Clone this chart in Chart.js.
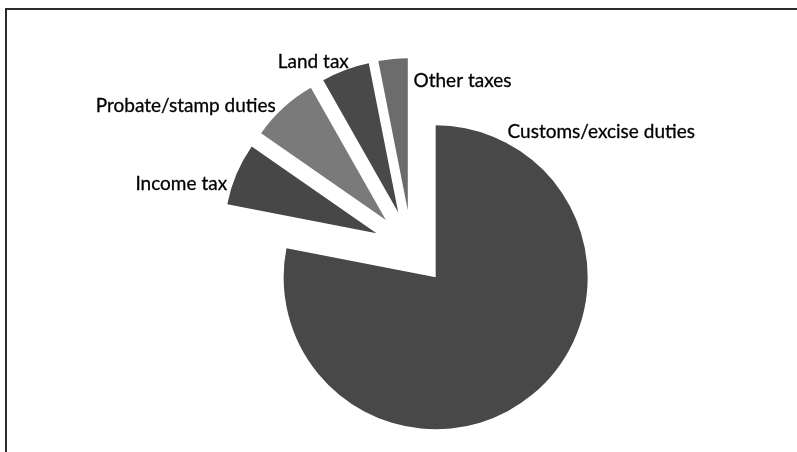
<!DOCTYPE html>
<html>
<head>
<meta charset="utf-8">
<script src="https://cdn.jsdelivr.net/npm/chart.js@4.4.1/dist/chart.umd.min.js"></script>
<style>
  html, body { margin: 0; padding: 0; background: #fff; }
  #wrap { position: relative; width: 797px; height: 452px; overflow: hidden; }
  #frame {
    position: absolute; left: 5px; top: 8px; width: 820px; height: 470px;
    border-left: 2px solid #2b2b2b; border-top: 2px solid #2b2b2b;
  }
  #taxChart { position: absolute; left: 0; top: 0; }
</style>
</head>
<body>
<div id="wrap">
  <div id="frame"></div>
  <canvas id="taxChart" width="797" height="452"></canvas>
</div>
<script>
// share of revenue by tax, percent
const categories = ["Customs/excise duties", "Income tax", "Probate/stamp duties", "Land tax", "Other taxes"];
const shares = [77.9, 6.6, 7.1, 5.1, 3.1];
const sliceColors = ["#484848", "#474747", "#7a7a7a", "#494949", "#6c6c6c"];

// where each label sits, measured from its own slice (degrees clockwise from 12 o'clock)
const labelAngle = [26, 289, 316.5, 342, 2.5];
const labelDist = [164, 158, 160, 160, 131];
const labelAlign = ["left", "right", "right", "right", "left"];

const explode = 38;

function midAngle(arc) {
  return (arc.startAngle + arc.endAngle) / 2;
}

// pull every slice out from the centre along its middle
const explodePlugin = {
  id: "explode",
  beforeDatasetDraw(chart, args) {
    const ctx = chart.ctx;
    const arcs = chart.getDatasetMeta(args.index).data;
    arcs.forEach(function (arc) {
      const a = midAngle(arc);
      ctx.save();
      ctx.translate(Math.cos(a) * explode, Math.sin(a) * explode);
      arc.draw(ctx);
      ctx.restore();
    });
    return false;
  }
};

const labelPlugin = {
  id: "sliceLabels",
  afterDatasetsDraw(chart) {
    const ctx = chart.ctx;
    const arcs = chart.getDatasetMeta(0).data;
    ctx.save();
    ctx.font = "19px Lato";
    ctx.fillStyle = "#000";
    ctx.strokeStyle = "#000";
    ctx.lineWidth = 0.3;
    ctx.textBaseline = "middle";
    arcs.forEach(function (arc, i) {
      const a = midAngle(arc);
      const cx = arc.x + Math.cos(a) * explode;
      const cy = arc.y + Math.sin(a) * explode;
      const t = (labelAngle[i] - 90) * Math.PI / 180;
      const x = cx + Math.cos(t) * labelDist[i];
      const y = cy + Math.sin(t) * labelDist[i] + 2;
      ctx.textAlign = labelAlign[i];
      ctx.fillText(categories[i], x, y);
      ctx.strokeText(categories[i], x, y);
    });
    ctx.restore();
  }
};

new Chart("taxChart", {
  type: "pie",
  data: {
    labels: categories,
    datasets: [{
      data: shares,
      backgroundColor: sliceColors,
      borderWidth: 0,
      radius: 152
    }]
  },
  options: {
    responsive: false,
    animation: false,
    layout: { padding: { left: 26, right: 0, top: 44, bottom: 0 } },
    plugins: {
      legend: { display: false },
      tooltip: { enabled: false }
    }
  },
  plugins: [explodePlugin, labelPlugin]
});
</script>
</body>
</html>
